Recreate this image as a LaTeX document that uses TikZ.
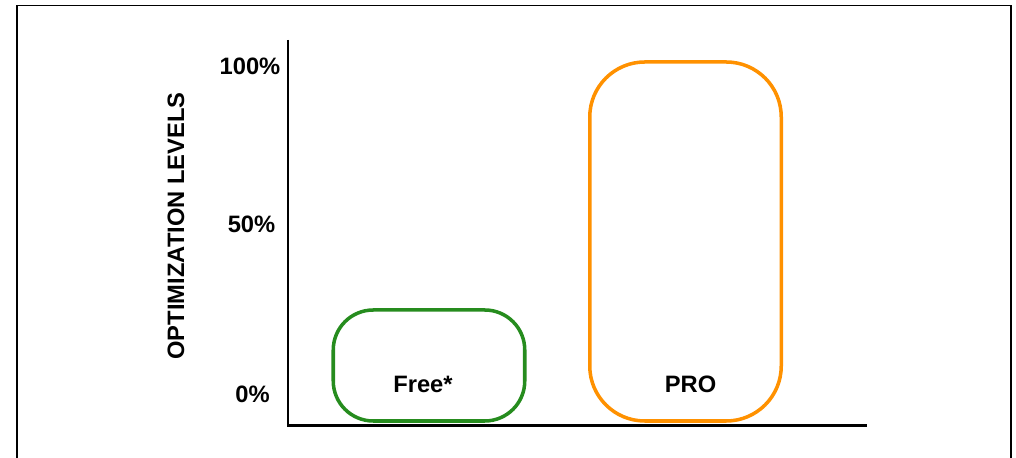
\documentclass[tikz,border=0pt]{standalone}
\usepackage{fontspec}
\setmainfont{Liberation Sans}
\usepackage{tikz}
\usetikzlibrary{positioning}

\definecolor{freegreen}{RGB}{38,140,30}
\definecolor{proorange}{RGB}{255,145,0}

\tikzset{
	axisline/.style={line width=1.7pt},
	levelbox/.style={draw, line width=2pt, minimum width=3.83cm},
	boxtext/.style={font=\bfseries\fontsize{13.5}{16}\selectfont},
	ticktext/.style={font=\bfseries\fontsize{13.5}{16}\selectfont}
}

\begin{document}
\begin{tikzpicture}
	\useasboundingbox (0,0) rectangle (20.32,9.16);
	% outer frame
	\draw[line width=1.1pt] (0.34,0) -- (0.34,9.05) -- (20.22,9.05) -- (20.22,0);

	% axes
	\coordinate (origin) at (5.76,0.64);
	\coordinate (ytop) at (5.76,8.36);
	\coordinate (xend) at (17.34,0.64);
	\draw[axisline] (ytop) -- (origin) -- (xend);

	\node[ticktext] (full) at (5.0,7.84) {100\%};
	\node[ticktext] (half) at (5.03,4.67) {50\%};
	\node[ticktext] (none) at (5.05,1.27) {0\%};
	\node[ticktext, rotate=90] (ylabel) at (3.52,4.64) {OPTIMIZATION LEVELS};

	% level boxes
	\node[levelbox, draw=freegreen, rounded corners=0.8cm, minimum height=2.22cm] (free) at (8.58,1.85) {};
	\node[levelbox, draw=proorange, rounded corners=1.1cm, minimum height=7.18cm] (pro) at (13.71,4.33) {};
	\node[boxtext] (freetext) at (8.46,1.48) {Free*};
	\node[boxtext] (protext) at (13.81,1.48) {PRO};
\end{tikzpicture}
\end{document}
